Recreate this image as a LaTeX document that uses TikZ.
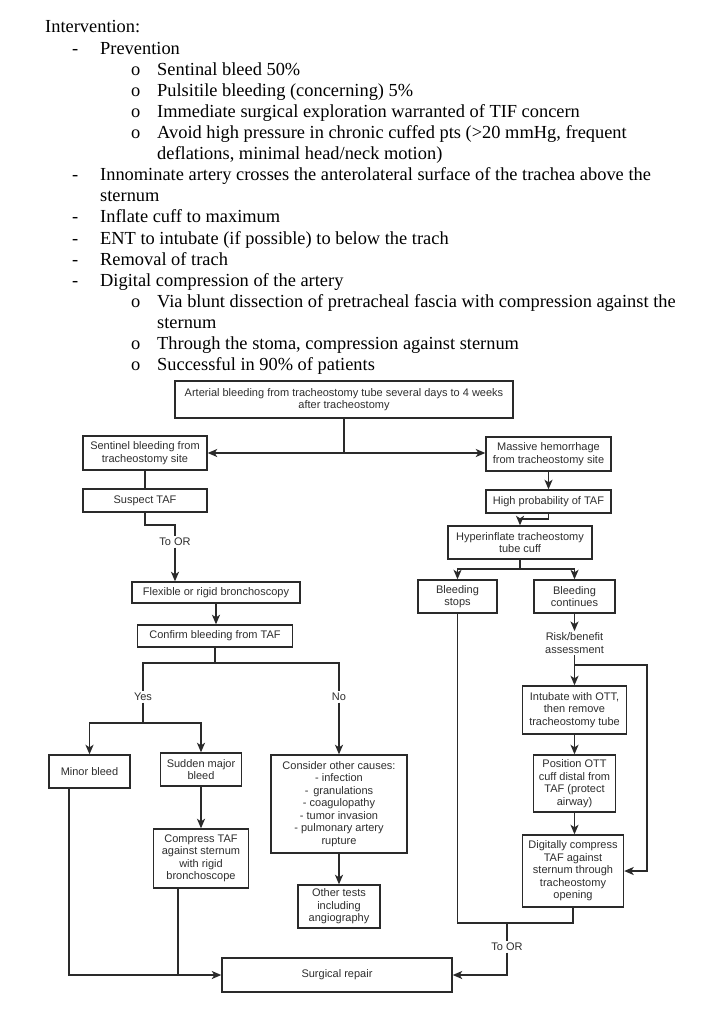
\documentclass[tikz,border=0pt]{standalone}
\usepackage{fontspec}
\setmainfont{Liberation Serif}
\newfontfamily\flowfont{Liberation Sans}
\usetikzlibrary{arrows.meta}
\definecolor{linec}{HTML}{2A2A2A}
\definecolor{txtc}{HTML}{2E2E2E}
\begin{document}
\begin{tikzpicture}[x=1pt,y=-1pt,
  body/.style={anchor=base west, inner sep=0pt, font=\fontsize{18.4}{21}\selectfont},
  fbox/.style={draw=linec, line width=1.4pt, align=center, text=txtc, inner sep=0pt,
    font=\flowfont\fontsize{11}{12.5}\selectfont},
  flab/.style={align=center, text=txtc, inner sep=1.5pt, font=\flowfont\fontsize{11}{12.5}\selectfont},
  conn/.style={draw=linec, line width=1.4pt},
  arr/.style={conn, -{Stealth[length=9.5pt,width=8pt,inset=2.5pt]}}]
\useasboundingbox (0,0) rectangle (707,1024);
\fill[white] (0,0) rectangle (707,1024);
% ---------- text ----------
\node[body] (hd) at (45,33) {Intervention:};
\node[body] (da) at (72,54.1) {-};
\node[body] (ta) at (100,54.1) {Prevention};
\node[body] (oa) at (131,75.2) {o};
\node[body] (sa) at (157,75.2) {Sentinal bleed 50\%};
\node[body] (ob) at (131,96.3) {o};
\node[body] (sb) at (157,96.3) {Pulsitile bleeding (concerning) 5\%};
\node[body] (oc) at (131,117.4) {o};
\node[body] (sc) at (157,117.4) {Immediate surgical exploration warranted of TIF concern};
\node[body] (od) at (131,138.5) {o};
\node[body] (sd) at (157,138.5) {Avoid high pressure in chronic cuffed pts (>20 mmHg, frequent};
\node[body] (sd2) at (157,159.6) {deflations, minimal head/neck motion)};
\node[body] (db) at (72,180.7) {-};
\node[body] (tb) at (100,180.7) {Innominate artery crosses the anterolateral surface of the trachea above the};
\node[body] (tb2) at (100,201.8) {sternum};
\node[body] (dc) at (72,222.9) {-};
\node[body] (tc) at (100,222.9) {Inflate cuff to maximum};
\node[body] (dd) at (72,244) {-};
\node[body] (td) at (100,244) {ENT to intubate (if possible) to below the trach};
\node[body] (de) at (72,265.1) {-};
\node[body] (te) at (100,265.1) {Removal of trach};
\node[body] (df) at (72,286.2) {-};
\node[body] (tf) at (100,286.2) {Digital compression of the artery};
\node[body] (oe) at (131,307.3) {o};
\node[body] (se) at (157,307.3) {Via blunt dissection of pretracheal fascia with compression against the};
\node[body] (se2) at (157,328.4) {sternum};
\node[body] (of) at (131,349.5) {o};
\node[body] (sf) at (157,349.5) {Through the stoma, compression against sternum};
\node[body] (og) at (131,370.6) {o};
\node[body] (sg) at (157,370.6) {Successful in 90\% of patients};
% ---------- boxes ----------
\node[fbox, minimum width=338, minimum height=37] (top) at (344,399.5) {Arterial bleeding from tracheostomy tube several days to 4 weeks\\after tracheostomy};
\node[fbox, minimum width=124, minimum height=34] (sent) at (145,453) {Sentinel bleeding from\\tracheostomy site};
\node[fbox, minimum width=125, minimum height=34] (mass) at (548.5,454) {Massive hemorrhage\\from tracheostomy site};
\node[fbox, minimum width=124, minimum height=23] (susp) at (145,500.5) {Suspect TAF};
\node[fbox, minimum width=125, minimum height=23] (high) at (548.5,501.5) {High probability of TAF};
\node[fbox, minimum width=144, minimum height=33] (hyper) at (520,542.5) {Hyperinflate tracheostomy\\tube cuff};
\node[fbox, minimum width=79, minimum height=33] (stops) at (457.5,596.5) {Bleeding\\stops};
\node[fbox, minimum width=81, minimum height=33] (cont) at (574.5,596.5) {Bleeding\\continues};
\node[flab] (risk) at (574.5,643) {Risk/benefit\\assessment};
\node[fbox, minimum width=104, minimum height=48] (intub) at (574.5,710) {Intubate with OTT,\\then remove\\tracheostomy tube};
\node[fbox, minimum width=82, minimum height=57] (posit) at (574.5,783.5) {Position OTT\\cuff distal from\\TAF (protect\\airway)};
\node[fbox, minimum width=101, minimum height=72] (digit) at (573,871) {Digitally compress\\TAF against\\sternum through\\tracheostomy\\opening};
\node[flab] (tor1) at (175,542) {To OR};
\node[fbox, minimum width=168, minimum height=21] (flex) at (216,592.5) {Flexible or rigid bronchoscopy};
\node[fbox, minimum width=155, minimum height=22] (conf) at (215,636) {Confirm bleeding from TAF};
\node[flab] (yes) at (143,697) {Yes};
\node[flab] (no) at (339,697) {No};
\node[fbox, minimum width=81, minimum height=33] (minor) at (89.5,771.5) {Minor bleed};
\node[fbox, minimum width=81, minimum height=33] (sudden) at (201,769.5) {Sudden major\\bleed};
\node[fbox, minimum width=95, minimum height=59] (compr) at (201,858.5) {Compress TAF\\against sternum\\with rigid\\bronchoscope};
\node[fbox, minimum width=136, minimum height=98] (consid) at (339,804) {Consider other causes:\\- infection\\- \,granulations\\- coagulopathy\\- tumor invasion\\- pulmonary artery\\rupture};
\node[fbox, minimum width=82, minimum height=43] (other) at (339,906.5) {Other tests\\including\\angiography};
\node[flab] (tor2) at (507,947) {To OR};
\node[fbox, minimum width=230, minimum height=34] (surg) at (337,975) {Surgical repair};
% ---------- connectors ----------
\coordinate (j1) at (344,453);
\draw[conn] (top.south) -- (j1);
\draw[arr] (j1) -- (sent.east);
\draw[arr] (j1) -- (j1 -| mass.west);
\draw[arr] (mass.south) -- (high.north);
\coordinate (h1) at (520,519);
\draw[arr] (high.south) |- (h1) -- (hyper.north);
\coordinate (h2) at (520,569);
\draw[conn] (hyper.south) -- (h2);
\draw[arr] (h2) -| (stops.north);
\draw[arr] (h2) -| (cont.north);
\draw[arr] (cont.south) -- (risk.north);
\draw[arr] (risk.south) -- (intub.north);
\coordinate (r1) at (574.5,665);
\coordinate (r2) at (647,665);
\draw[arr] (r1) -- (r2) |- (digit.east);
\draw[arr] (intub.south) -- (posit.north);
\draw[arr] (posit.south) -- (posit.south |- digit.north);
\coordinate (b1) at (457.5,923);
\coordinate (b2) at (573,923);
\coordinate (m1) at (507,923);
\draw[conn] (stops.south) -- (b1) -- (b2) -- (digit.south);
\draw[conn] (m1) -- (tor2.north);
\draw[arr] (tor2.south) |- (surg.east);
\draw[conn] (sent.south) -- (susp.north);
\coordinate (s1) at (175,525);
\draw[conn] (susp.south) |- (s1) -- (tor1.north);
\draw[arr] (tor1.south) -- (tor1.south |- flex.north);
\draw[arr] (flex.south) -- (flex.south |- conf.north);
\coordinate (c1) at (215,663);
\draw[conn] (conf.south) -- (c1);
\draw[conn] (c1) -| (yes.north);
\draw[conn] (c1) -| (no.north);
\coordinate (c2) at (143,723);
\draw[conn] (yes.south) -- (c2);
\draw[arr] (c2) -| (minor.north);
\draw[arr] (c2) -| (sudden.north);
\draw[arr] (no.south) -- (consid.north);
\draw[arr] (consid.south) -- (other.north);
\draw[arr] (sudden.south) -- (compr.north);
\coordinate (l1) at (69,975);
\coordinate (l2) at (178,975);
\draw[conn] (l2 |- compr.south) -- (l2);
\draw[arr] (l1 |- minor.south) -- (l1) -- (surg.west);
\end{tikzpicture}
\end{document}
